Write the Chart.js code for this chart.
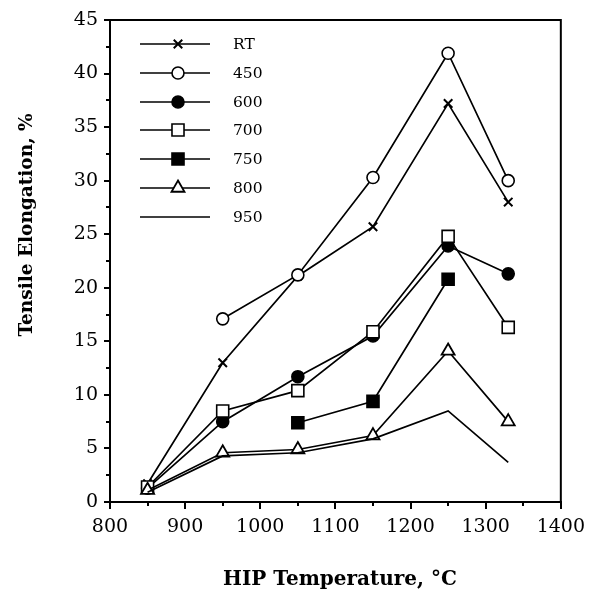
<!DOCTYPE html>
<html><head><meta charset="utf-8">
<script src="https://cdn.jsdelivr.net/npm/chart.js@4"></script>
<style>html,body{margin:0;padding:0;background:#fff}#wrap{width:592px;height:597px}</style>
</head><body><div id="wrap"><canvas id="c" width="592" height="597"></canvas></div>
<script>
const temperatures = [850, 950, 1050, 1150, 1250, 1330];
const seriesNames = ['RT', '450', '600', '700', '750', '800', '950'];
const rt   = [1.7, 13.0, 21.1, 25.7, 37.2, 28.0];
const t450 = [null, 17.1, 21.2, 30.3, 41.9, 30.0];
const t600 = [1.3, 7.5, 11.7, 15.5, 23.9, 21.3];
const t700 = [1.4, 8.5, 10.4, 15.9, 24.8, 16.3];
const t750 = [null, null, 7.4, 9.4, 20.8, null];
const t800 = [1.1, 4.6, 4.9, 6.2, 14.1, 7.5];
const t950 = [0.9, 4.3, 4.6, 5.9, 8.5, 3.7];
const xTickValues = [800, 900, 1000, 1100, 1200, 1300, 1400];
const yTickValues = [0, 5, 10, 15, 20, 25, 30, 35, 40, 45];
const xTitle = 'HIP Temperature, \u00B0C';
const yTitle = 'Tensile Elongation, %';

const seriesValues = [rt, t450, t600, t700, t750, t800, t950];
const styles = [
  {pointStyle: 'crossRot', radius: 6, fill: '#000', bw: 2},
  {pointStyle: 'circle', radius: 6, fill: '#fff', bw: 1.6},
  {pointStyle: 'circle', radius: 6, fill: '#000', bw: 1.6},
  {pointStyle: 'rect', radius: 8.5, fill: '#fff', bw: 1.6},
  {pointStyle: 'rect', radius: 8.5, fill: '#000', bw: 1.6},
  {pointStyle: 'triangle', radius: 7.5, fill: '#fff', bw: 1.8},
  {pointStyle: false, radius: 0, fill: '#000', bw: 0}
];

const datasets = seriesNames.map((name, i) => ({
  label: name,
  data: temperatures.map((t, j) => ({x: t, y: seriesValues[i][j]})),
  borderColor: '#000',
  borderWidth: 1.7,
  backgroundColor: styles[i].fill,
  pointStyle: styles[i].pointStyle,
  pointRadius: styles[i].radius,
  pointBackgroundColor: styles[i].fill,
  pointBorderColor: '#000',
  pointBorderWidth: styles[i].bw,
  spanGaps: false,
  tension: 0,
  order: 7 - i
}));

const FONT = '"DejaVu Serif", "Liberation Serif", serif';

const extras = {
  id: 'extras',
  afterDraw(chart) {
    const ctx = chart.ctx;
    const a = chart.chartArea;
    const xs = chart.scales.x, ys = chart.scales.y;
    ctx.save();
    ctx.strokeStyle = '#000';
    ctx.lineWidth = 2;
    ctx.strokeRect(a.left, a.top, a.right - a.left, a.bottom - a.top);
    ctx.beginPath();
    for (let i = 0; i < xTickValues.length - 1; i++) {
      const px = Math.round(xs.getPixelForValue((xTickValues[i] + xTickValues[i + 1]) / 2));
      ctx.moveTo(px, a.bottom); ctx.lineTo(px, a.bottom + 4);
    }
    for (let i = 0; i < yTickValues.length - 1; i++) {
      const py = Math.round(ys.getPixelForValue((yTickValues[i] + yTickValues[i + 1]) / 2));
      ctx.moveTo(a.left, py); ctx.lineTo(a.left - 4, py);
    }
    ctx.stroke();
    ctx.fillStyle = '#000';
    ctx.textAlign = 'center';
    ctx.textBaseline = 'middle';
    ctx.font = 'bold 20px ' + FONT;
    ctx.fillText(xTitle, 340, 580);
    ctx.save();
    ctx.translate(27, 225);
    ctx.rotate(-Math.PI / 2);
    ctx.font = 'bold 18.5px ' + FONT;
    ctx.fillText(yTitle, 0, 0);
    ctx.restore();
    ctx.font = '15.5px ' + FONT;
    ctx.textAlign = 'left';
    chart.data.datasets.forEach((ds, i) => {
      const y = Math.round(44 + i * 28.8);
      ctx.lineWidth = 1.7;
      ctx.strokeStyle = '#000';
      ctx.beginPath();
      ctx.moveTo(140, y); ctx.lineTo(210, y);
      ctx.stroke();
      if (ds.pointStyle) {
        ctx.fillStyle = ds.pointBackgroundColor;
        ctx.strokeStyle = '#000';
        ctx.lineWidth = ds.pointBorderWidth;
        Chart.helpers.drawPoint(ctx, {pointStyle: ds.pointStyle, radius: ds.pointRadius, rotation: 0, borderWidth: ds.pointBorderWidth}, 178, y);
      }
      ctx.fillStyle = '#000';
      ctx.fillText(ds.label, 233, y + 1);
    });
    ctx.restore();
  }
};

new Chart(document.getElementById('c'), {
  type: 'line',
  data: {datasets},
  options: {
    responsive: false,
    animation: false,
    devicePixelRatio: 1,
    layout: {padding: {left: 0, right: 31, top: 20, bottom: 0}},
    plugins: {legend: {display: false}, tooltip: {enabled: false}},
    scales: {
      x: {
        type: 'linear', min: 800, max: 1400,
        afterBuildTicks: s => { s.ticks = xTickValues.map(v => ({value: v})); },
        afterFit: s => { s.height = 95; },
        ticks: {color: '#000', font: {family: FONT, size: 19}, padding: 7, maxRotation: 0, autoSkip: false, callback: v => String(v)},
        grid: {drawOnChartArea: false, drawTicks: true, tickLength: 7, color: '#000', lineWidth: 2},
        border: {display: true, color: '#000', width: 2}
      },
      y: {
        type: 'linear', min: 0, max: 45,
        afterBuildTicks: s => { s.ticks = yTickValues.map(v => ({value: v})); },
        afterFit: s => { s.width = 110; },
        ticks: {color: '#000', font: {family: FONT, size: 19}, padding: 6, autoSkip: false, callback: v => String(v)},
        grid: {drawOnChartArea: false, drawTicks: true, tickLength: 6, color: '#000', lineWidth: 2},
        border: {display: true, color: '#000', width: 2}
      }
    }
  },
  plugins: [extras]
});
</script></body></html>
